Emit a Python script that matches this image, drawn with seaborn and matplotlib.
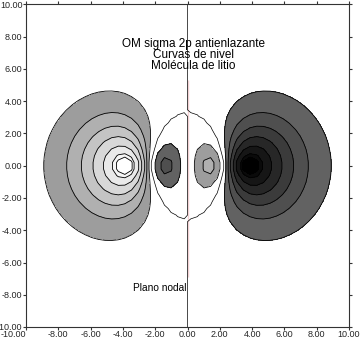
import numpy as np
import pandas as pd
import matplotlib
matplotlib.use("Agg")
import matplotlib.pyplot as plt
import seaborn as sns

# Li2 sigma*(2p): two 2p Slater functions pointing along the bond axis (bohr)
nuclei_x = [-2.5, 2.5]
slater_zeta = 0.66

# contour levels of the orbital
levels_negative = [-0.61, -0.58, -0.50, -0.40, -0.30, -0.20, -0.10]
levels_positive = [0.10, 0.20, 0.30, 0.40, 0.50, 0.58, 0.61]
level_zero = [0.0]

# axis ticks
tick_values = [-10, -8, -6, -4, -2, 0, 2, 4, 6, 8, 10]

# nodal plane segment (red) along x = 0
nodal_x = [0.0, 0.0]
nodal_y = [5.3, -6.9]

title_lines = ["OM sigma 2p antienlazante", "Curvas de nivel", "Molécula de litio"]
nodal_label = "Plano nodal"

sns.set_theme(style="ticks")
plt.rcParams["font.family"] = ["Liberation Sans", "DejaVu Sans"]
plt.rcParams["axes.unicode_minus"] = False

# evaluation grid (even count so x = 0 falls between nodes)
n = 50
gx = np.linspace(-10, 10, n)
X, Y = np.meshgrid(gx, gx)
psi = np.zeros_like(X)
for xc in nuclei_x:
    r = np.sqrt((X - xc) ** 2 + Y ** 2)
    psi += (X - xc) * np.exp(-slater_zeta * r)

fill_levels = [-10.0] + levels_negative + levels_positive + [10.0]
band_grays = [1.0, 0.96, 0.915, 0.846, 0.769, 0.692, 0.615, 1.0,
              0.385, 0.308, 0.231, 0.154, 0.085, 0.04, 0.0]
band_colors = [(g, g, g) for g in band_grays]

fig = plt.figure(figsize=(3.61, 3.38), dpi=100)
ax = fig.add_axes([26 / 361, 1 - 327 / 338, 323 / 361, 322.5 / 338])

ax.contourf(X, Y, psi, levels=fill_levels, colors=band_colors)
ax.contour(X, Y, psi, levels=levels_negative + levels_positive,
           colors="black", linewidths=0.6, linestyles="solid")
ax.contour(X, Y, psi, levels=level_zero, colors="black", linewidths=0.5,
           linestyles="solid")

nodal = pd.DataFrame({"x": nodal_x, "y": nodal_y})
sns.lineplot(data=nodal, x="x", y="y", sort=False, color="#c01420",
             linewidth=1.0, ax=ax, legend=False)

for i, line in enumerate(title_lines):
    ax.text(0.35, 7.52 - 0.67 * i, line, ha="center", va="center",
            fontsize=8.5, color="black")
ax.text(-3.35, -7.58, nodal_label, ha="left", va="center", fontsize=7.3,
        color="black")

ax.set_xlim(-10, 10)
ax.set_ylim(-10, 10)
ax.set_xticks(tick_values)
ax.set_yticks(tick_values)
ax.set_xticklabels([f"{v:.2f}" for v in tick_values])
ax.set_yticklabels([f"{v:.2f}" for v in tick_values])
ax.set_xlabel("")
ax.set_ylabel("")
ax.tick_params(axis="both", which="both", direction="out", length=2.2,
               width=0.8, color="#333333", labelsize=6.5, pad=0.3,
               top=True, right=True, labeltop=False, labelright=False)
ax.get_xticklabels()[0].set_ha("right")
for s in ax.spines.values():
    s.set_visible(True)
    s.set_linewidth(0.8)
    s.set_color("#333333")
ax.set_facecolor("white")

fig.savefig("out.png", dpi=100)
